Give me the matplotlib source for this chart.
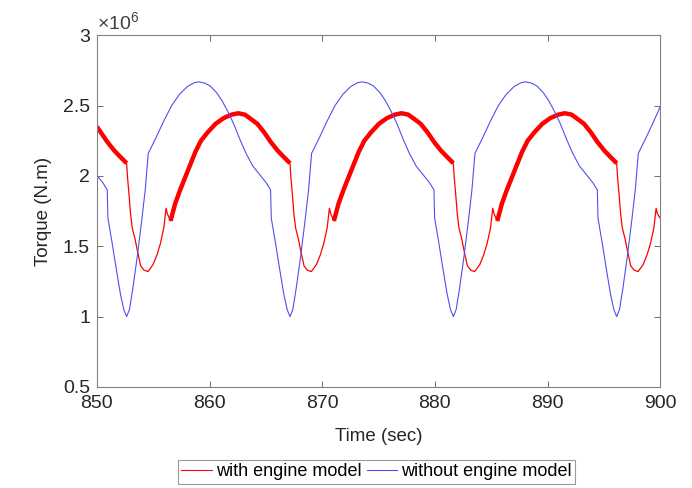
import numpy as np
import matplotlib
matplotlib.use("Agg")
import matplotlib.pyplot as plt

plt.rcParams['font.family'] = ['Liberation Sans', 'DejaVu Sans']
plt.rcParams['mathtext.default'] = 'regular'

# torque in units of 1e6 N.m
time_without = [
    850.00, 850.54, 850.92, 850.98, 851.34, 851.74, 852.09, 852.39,
    852.64, 852.89, 853.19, 853.59, 853.99, 854.29, 854.56, 855.24, 855.94, 856.64,
    857.34, 858.04, 858.64, 859.04, 859.54, 860.04, 860.64, 861.14, 861.64, 862.14,
    862.69, 863.24, 863.84, 864.44, 865.04, 865.42, 865.48, 865.84, 866.24, 866.59, 866.89,
    867.14, 867.39, 867.69, 868.09, 868.49, 868.79, 869.06, 869.74, 870.44, 871.14,
    871.84, 872.54, 873.14, 873.54, 874.04, 874.54, 875.14, 875.64, 876.14, 876.64,
    877.19, 877.74, 878.34, 878.94, 879.54, 879.92, 879.98, 880.34, 880.74, 881.09, 881.39,
    881.64, 881.89, 882.19, 882.59, 882.99, 883.29, 883.56, 884.24, 884.94, 885.64,
    886.34, 887.04, 887.64, 888.04, 888.54, 889.04, 889.64, 890.14, 890.64, 891.14,
    891.69, 892.24, 892.84, 893.44, 894.04, 894.42, 894.48, 894.84, 895.24, 895.59, 895.89,
    896.14, 896.39, 896.69, 897.09, 897.49, 897.79, 898.06, 898.74, 899.44, 900.00]
torque_without = [
    2.005, 1.95, 1.90, 1.70, 1.53, 1.33, 1.16, 1.05,
    1.00, 1.05, 1.20, 1.43, 1.69, 1.90, 2.16, 2.27, 2.39, 2.50,
    2.58, 2.635, 2.662, 2.668, 2.66, 2.64, 2.59, 2.53, 2.455, 2.37,
    2.26, 2.16, 2.07, 2.01, 1.95, 1.90, 1.70, 1.53, 1.33, 1.16, 1.05,
    1.00, 1.05, 1.20, 1.43, 1.69, 1.90, 2.16, 2.27, 2.39, 2.50,
    2.58, 2.635, 2.662, 2.668, 2.66, 2.64, 2.59, 2.53, 2.455, 2.37,
    2.26, 2.16, 2.07, 2.01, 1.95, 1.90, 1.70, 1.53, 1.33, 1.16, 1.05,
    1.00, 1.05, 1.20, 1.43, 1.69, 1.90, 2.16, 2.27, 2.39, 2.50,
    2.58, 2.635, 2.662, 2.668, 2.66, 2.64, 2.59, 2.53, 2.455, 2.37,
    2.26, 2.16, 2.07, 2.01, 1.95, 1.90, 1.70, 1.53, 1.33, 1.16, 1.05,
    1.00, 1.05, 1.20, 1.43, 1.69, 1.90, 2.16, 2.27, 2.39, 2.49]

time_with = [
    850.00, 850.34, 850.94, 851.54, 852.14, 852.64,
    852.72, 852.84, 852.99, 853.14, 853.39, 853.59, 853.89, 854.19, 854.54, 854.99,
    855.34, 855.64, 855.94, 856.14, 856.26, 856.54,
    856.94, 857.39, 857.84, 858.29, 858.74, 859.24, 859.84, 860.54, 861.24, 861.94,
    862.54, 863.14, 863.74, 864.24, 864.84, 865.44, 866.04, 866.64, 867.14,
    867.22, 867.34, 867.49, 867.64, 867.89, 868.09, 868.39, 868.69, 869.04, 869.49,
    869.84, 870.14, 870.44, 870.64, 870.76, 871.04,
    871.44, 871.89, 872.34, 872.79, 873.24, 873.74, 874.34, 875.04, 875.74, 876.44,
    877.04, 877.64, 878.24, 878.74, 879.34, 879.94, 880.54, 881.14, 881.64,
    881.72, 881.84, 881.99, 882.14, 882.39, 882.59, 882.89, 883.19, 883.54, 883.99,
    884.34, 884.64, 884.94, 885.14, 885.26, 885.54,
    885.94, 886.39, 886.84, 887.29, 887.74, 888.24, 888.84, 889.54, 890.24, 890.94,
    891.54, 892.14, 892.74, 893.24, 893.84, 894.44, 895.04, 895.64, 896.14,
    896.22, 896.34, 896.49, 896.64, 896.89, 897.09, 897.39, 897.69, 898.04, 898.49,
    898.84, 899.14, 899.44, 899.64, 899.76, 900.00]
torque_with = [
    2.35, 2.31, 2.24, 2.18, 2.13, 2.09,
    1.99, 1.88, 1.73, 1.63, 1.55, 1.47, 1.36, 1.33, 1.32, 1.37,
    1.44, 1.52, 1.63, 1.77, 1.73, 1.68,
    1.80, 1.90, 1.99, 2.08, 2.17, 2.25, 2.31, 2.37, 2.41, 2.435,
    2.445, 2.435, 2.40, 2.37, 2.31, 2.24, 2.18, 2.13, 2.09,
    1.99, 1.88, 1.73, 1.63, 1.55, 1.47, 1.36, 1.33, 1.32, 1.37,
    1.44, 1.52, 1.63, 1.77, 1.73, 1.68,
    1.80, 1.90, 1.99, 2.08, 2.17, 2.25, 2.31, 2.37, 2.41, 2.435,
    2.445, 2.435, 2.40, 2.37, 2.31, 2.24, 2.18, 2.13, 2.09,
    1.99, 1.88, 1.73, 1.63, 1.55, 1.47, 1.36, 1.33, 1.32, 1.37,
    1.44, 1.52, 1.63, 1.77, 1.73, 1.68,
    1.80, 1.90, 1.99, 2.08, 2.17, 2.25, 2.31, 2.37, 2.41, 2.435,
    2.445, 2.435, 2.40, 2.37, 2.31, 2.24, 2.18, 2.13, 2.09,
    1.99, 1.88, 1.73, 1.63, 1.55, 1.47, 1.36, 1.33, 1.32, 1.37,
    1.44, 1.52, 1.63, 1.77, 1.73, 1.70]

# stretches where the red trace is a thin line (elsewhere it is a wide ripple band)
thin_windows = [(852.64, 856.54), (867.14, 871.04), (881.64, 885.54), (896.14, 901.0)]

t_w = np.array(time_with)
q_w = np.array(torque_with)
thin = np.zeros(len(t_w), dtype=bool)
for lo, hi in thin_windows:
    thin |= (t_w > lo) & (t_w < hi)
q_band = np.where(thin, np.nan, q_w)

fig = plt.figure(figsize=(6.92, 4.88), dpi=100)
ax = fig.add_axes([0.140, 0.207, 0.814, 0.721])

red = '#ff0000'
blue = '#5050f0'

ax.plot(time_with, torque_with, color=red, lw=0.9, label='with engine model')
ax.plot(t_w, q_band, color=red, lw=3.2, solid_capstyle='butt')
ax.plot(time_without, torque_without, color=blue, lw=0.8, label='without engine model')

ax.set_xlim(850, 900)
ax.set_ylim(0.5, 3)
ax.set_xticks([850, 860, 870, 880, 890, 900])
ax.set_yticks([0.5, 1, 1.5, 2, 2.5, 3])
ax.set_yticklabels(['0.5', '1', '1.5', '2', '2.5', '3'])

ax.tick_params(direction='in', top=True, right=True, length=4, width=0.6,
               color='#555555', labelcolor='#262626', labelsize=14)
ax.tick_params(axis='x', pad=6)
ax.tick_params(axis='y', pad=5)
for s in ax.spines.values():
    s.set_color('#808080')
    s.set_linewidth(0.8)

ax.set_xlabel('Time (sec)', fontsize=13.5, color='#262626', labelpad=11)
ax.set_ylabel('Torque (N.m)', fontsize=13.5, color='#262626', labelpad=8)
ax.text(0.0, 1.005, r'$\times10^{6}$', transform=ax.transAxes, fontsize=14,
        color='#404040', ha='left', va='bottom')

leg = fig.legend(loc='center', bbox_to_anchor=(0.544, 0.033), ncol=2,
                 fontsize=13, frameon=True, fancybox=False, handlelength=1.7,
                 handletextpad=0.2, columnspacing=0.3, borderpad=0.2)
leg.get_frame().set_edgecolor('#808080')
leg.get_frame().set_linewidth(0.8)
for h in leg.get_lines():
    h.set_linewidth(0.8)

fig.savefig('out.png', dpi=100)
